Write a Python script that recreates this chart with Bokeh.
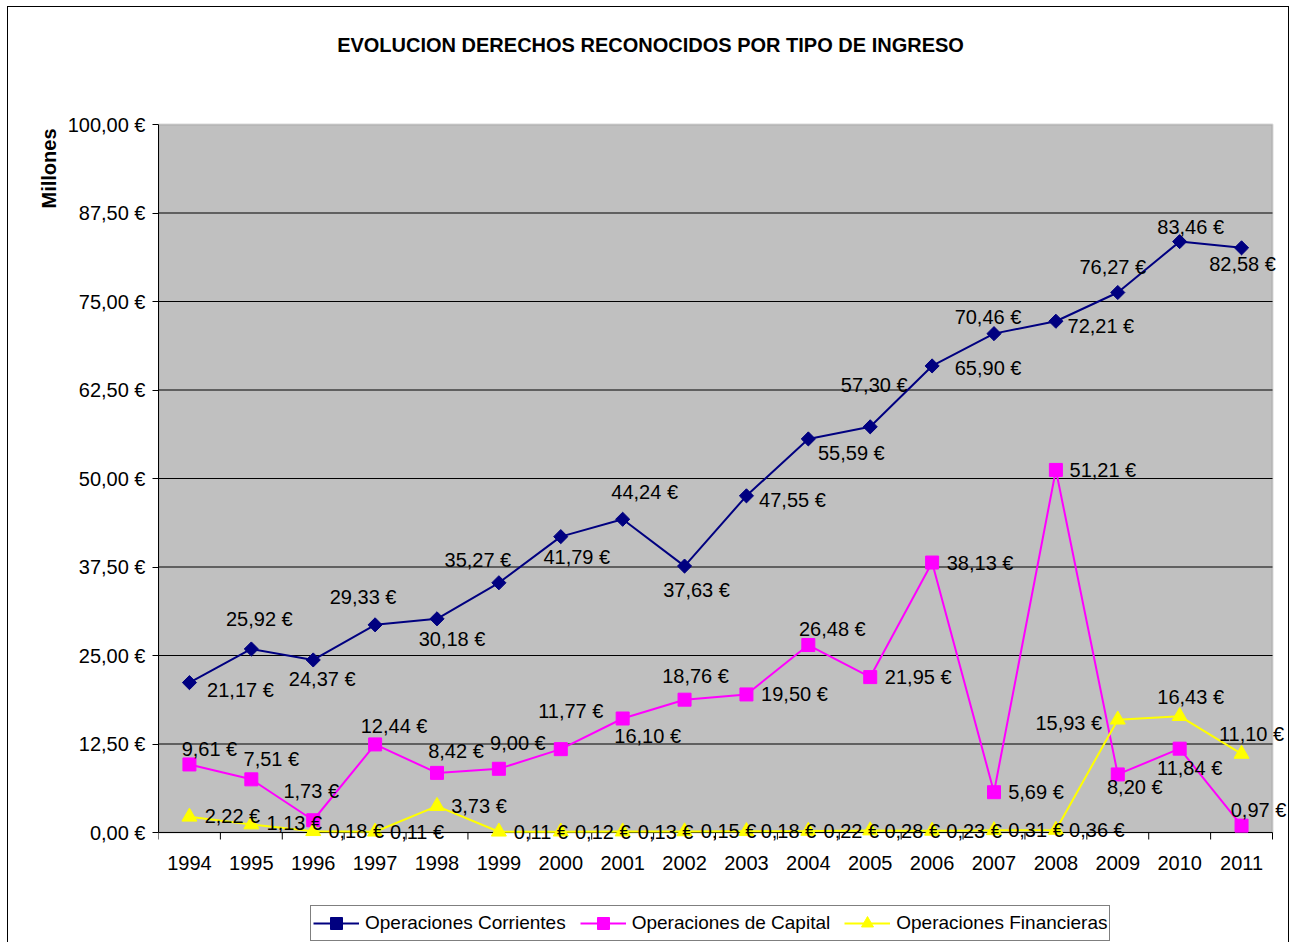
import math
from bokeh.plotting import figure
from bokeh.models import (ColumnDataSource, Range1d, FixedTicker, LabelSet, Label, Title,
                          Legend, LegendItem, BoxAnnotation)
from bokeh.core.properties import value
from bokeh.embed import file_html
from bokeh.resources import INLINE

# ---------------- data ----------------
years = ["1994", "1995", "1996", "1997", "1998", "1999", "2000", "2001", "2002",
         "2003", "2004", "2005", "2006", "2007", "2008", "2009", "2010", "2011"]
corrientes = [21.17, 25.92, 24.37, 29.33, 30.18, 35.27, 41.79, 44.24, 37.63,
              47.55, 55.59, 57.30, 65.90, 70.46, 72.21, 76.27, 83.46, 82.58]
capital = [9.61, 7.51, 1.73, 12.44, 8.42, 9.00, 11.77, 16.10, 18.76,
           19.50, 26.48, 21.95, 38.13, 5.69, 51.21, 8.20, 11.84, 0.97]
financieras = [2.22, 1.13, 0.18, 0.11, 3.73, 0.11, 0.12, 0.13, 0.15,
               0.18, 0.22, 0.28, 0.23, 0.31, 0.36, 15.93, 16.43, 11.10]
series_names = ["Operaciones Corrientes", "Operaciones de Capital", "Operaciones Financieras"]
y_ticks = [0.0, 12.5, 25.0, 37.5, 50.0, 62.5, 75.0, 87.5, 100.0]
y_tick_labels = ["0,00 €", "12,50 €", "25,00 €", "37,50 €", "50,00 €",
                 "62,50 €", "75,00 €", "87,50 €", "100,00 €"]
title_text = "EVOLUCION DERECHOS RECONOCIDOS POR TIPO DE INGRESO"
y_title = "Millones"

# ---------------- label placement (style, px) ----------------
corr_dx = [51, 8, 9, -12, 15, -21, 16, 22, 12, 46, 43, 4, 56, -6, 45, -5, 11, 1]
corr_dy = [-7, 30, -19, 28, -20, 23, -20, 27, -24, -4, -14, 42, -2, 17, -5, 26, 15, -16]
cap_dx = [20, 20, -2, 19, 19, 19, 10, 25, 11, 48, 24, 48, 48, 42, 47, 17, 10, 17]
cap_dy = [15, 20, 29, 18, 22, 26, 38, -17, 24, 0, 16, 0, 0, 0, 0, -13, -19, 16]
fin_dx = [43, 43, 43, 42, 42, 42, 42, 43, 44, 42, 43, 42, 42, 42, 41, -49, 11, 10]
fin_dy = [1, 1, 0, 0, 0, 0, 0, 0, 0, 0, 0, 0, 0, 0, 0, -3, 19, 20]

FONT = "Liberation Sans"

# ---------------- layout constants (px, page coordinates) ----------------
CANVAS_X0, CANVAS_Y0 = 8, 7
CANVAS_W, CANVAS_H = 1282, 936
PLOT_L, PLOT_R, PLOT_T, PLOT_B = 158, 1272, 124, 832     # grey plotting area
LEFT = PLOT_L - CANVAS_X0
FRAME_W = CANVAS_W - LEFT
FRAME_T, FRAME_B = CANVAS_Y0, CANVAS_Y0 + CANVAS_H
n = len(years)
PX_X = (PLOT_R - PLOT_L) / n        # px per category
PX_Y = (PLOT_B - PLOT_T) / 100.0     # px per unit

def fmt(v):
    return f"{v:.2f}".replace(".", ",") + " €"

def dx_(px):   # page x -> data x
    return (px - PLOT_L) / PX_X

def dy_(py):   # page y -> data y
    return (PLOT_B - py) / PX_Y

xs = [i + 0.5 for i in range(n)]
tick_len = 7 / PX_Y

p = figure(width=CANVAS_W, height=CANVAS_H,
           x_range=Range1d(0, dx_(PLOT_L + FRAME_W)), y_range=Range1d(dy_(FRAME_B), dy_(FRAME_T)),
           x_axis_location=None, output_backend="svg", toolbar_location=None,
           min_border_left=LEFT, min_border_right=0, min_border_top=0, min_border_bottom=0)
p.styles = {"margin-left": "7px", "margin-top": "6px",
            "border-top": "1px solid black", "border-left": "1px solid black",
            "border-right": "1px solid black"}
p.background_fill_color = "white"
p.border_fill_color = "white"
p.outline_line_color = None
p.xgrid.visible = False
p.ygrid.visible = False

# grey plotting area
p.add_layout(BoxAnnotation(left=0, right=n, bottom=0, top=100, fill_color="#C0C0C0", fill_alpha=1,
                           line_color="#808080", line_width=2, level="image"))
# horizontal gridlines
gl = [t for t in y_ticks if 0 < t < 100]
p.segment(x0=[0] * len(gl), x1=[n] * len(gl), y0=gl, y1=gl, line_color="black", line_width=1,
          level="underlay")
# category axis: line at zero, tick marks between categories, year labels
bounds = list(range(n + 1))
p.segment(x0=[0], x1=[n], y0=[0], y1=[0], line_color="black", line_width=1, level="underlay")
p.segment(x0=bounds, x1=bounds, y0=[0] * len(bounds), y1=[-tick_len] * len(bounds),
          line_color="black", line_width=1, level="underlay")
ysrc = ColumnDataSource(dict(x=xs, y=[0] * n, t=years))
p.add_layout(LabelSet(x="x", y="y", text="t", source=ysrc, y_offset=-30,
                      text_font=value(FONT), text_font_size="20px", text_color="black",
                      text_align="center", text_baseline="middle"))

# value axis
p.yaxis.bounds = (0, 100)
p.yaxis.axis_line_color = "black"
p.yaxis.ticker = FixedTicker(ticks=y_ticks, minor_ticks=[])
p.yaxis.major_label_overrides = {t: l for t, l in zip(y_ticks, y_tick_labels)}
p.yaxis.major_tick_out = 6
p.yaxis.major_tick_in = 0
p.yaxis.major_tick_line_color = "black"
p.yaxis.major_label_standoff = 7
p.yaxis.major_label_text_font = FONT
p.yaxis.major_label_text_font_size = "20px"
p.yaxis.major_label_text_color = "black"

items = []
specs = [
    (corrientes, "#000080", "square", 10, math.pi / 4, corr_dx, corr_dy),
    (capital, "#FF00FF", "square", 13, 0, cap_dx, cap_dy),
    (financieras, "#FFFF00", "triangle", 15, 0, fin_dx, fin_dy),
]
for name, (vals, col, mk, sz, ang, dx, dy) in zip(series_names, specs):
    src = ColumnDataSource(dict(x=xs, y=vals, t=[fmt(v) for v in vals], dx=dx, dy=dy))
    rl = p.line("x", "y", source=src, line_color=col, line_width=2)
    rs = p.scatter("x", "y", source=src, marker=mk, size=sz, angle=ang,
                   fill_color=col, line_color=col)
    items.append(LegendItem(label=name, renderers=[rl, rs]))
    p.add_layout(LabelSet(x="x", y="y", text="t", source=src, x_offset="dx", y_offset="dy",
                          text_font=value(FONT), text_font_size="20px", text_color="black",
                          text_align="center", text_baseline="middle"))

legend = Legend(items=items, location=(310 - PLOT_L, FRAME_B - 941), orientation="horizontal",
                border_line_color="black", border_line_width=1,
                background_fill_color="white", background_fill_alpha=1,
                label_text_font=FONT, label_text_font_size="19px", label_text_color="black",
                glyph_width=46, glyph_height=30, label_height=30, label_standoff=6,
                spacing=14, padding=2, margin=0)
p.add_layout(legend)

p.add_layout(Label(x=dx_(650), y=dy_(44), text=title_text, text_font=FONT,
                   text_font_style="bold", text_font_size="20px", text_color="black",
                   text_align="center", text_baseline="middle"))
p.add_layout(Title(text=y_title, align="right", offset=128 - FRAME_T, text_font=FONT,
                   text_font_style="bold", text_font_size="20px", text_color="black"), "left")

open("out.html", "w").write(file_html(p, INLINE))
